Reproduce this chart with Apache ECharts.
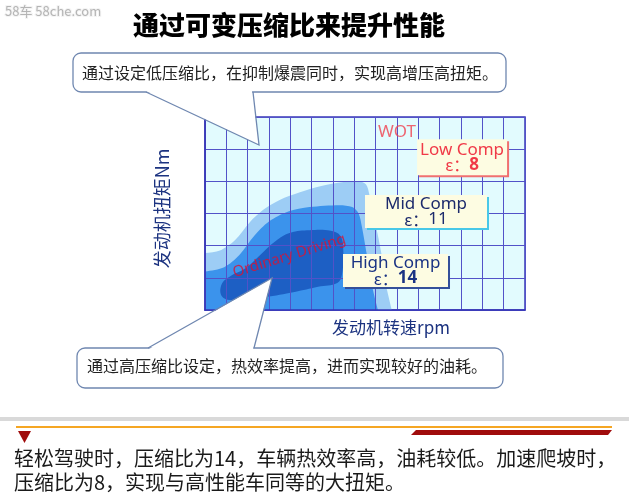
<!DOCTYPE html>
<html><head><meta charset="utf-8">
<script src="https://cdn.jsdelivr.net/npm/echarts@6/dist/echarts.min.js"></script>
<style>html,body{margin:0;padding:0;background:#fff}#c{width:629px;height:504px}</style>
</head><body><div id="c"></div>
<script>
// ---- data (axis units: rpm columns 0..15, torque rows 0..6) ----
const rpmRange = [0, 15];
const torqueRange = [0, 6];
// operating zones (outline points, [rpm, torque])
const lowCompZone = [[-1,1.77],[0,1.77],[0.7,1.85],[1.4,2.17],[2.1,2.73],[2.7,3.1],[3.5,3.42],[4.45,3.66],[5.4,3.85],[6.5,3.98],[7.2,4.0],[7.55,3.9],[7.7,3.6],[7.9,2.95],[8.2,2.0],[8.45,0.95],[8.62,-1],[-1,-1]];
const midCompZone = [[-1,1.2],[0,1.2],[0.9,1.33],[1.6,1.7],[2.3,2.3],[3.0,2.75],[3.9,3.06],[4.9,3.2],[6.3,3.26],[6.9,3.2],[7.2,3.0],[7.35,2.6],[7.55,1.85],[7.8,0.9],[8.0,-1],[-1,-1]];
const ordinaryZone = [[0.8,0.42],[0.78,0.8],[1.2,1.06],[1.9,1.3],[2.6,1.72],[3.3,2.14],[4.0,2.4],[4.9,2.48],[5.9,2.46],[6.35,2.3],[6.48,1.9],[6.42,1.1],[6.2,0.84],[5.3,0.72],[4.2,0.56],[2.8,0.4],[1.4,0.3]];
const modeNames = ['Low Comp', 'Mid Comp', 'High Comp'];
const modeRatios = ['8', '11', '14'];
const modeAt = [[12.05,4.75],[10.36,3.06],[8.93,1.23]];
const wotAt = [9.0, 5.53];
const ordinaryAt = [3.95, 1.68];

const chart = echarts.init(document.getElementById('c'));
const CJK = '"Noto Sans CJK SC","Noto Sans",sans-serif';
const LAT = '"Noto Sans","Noto Sans CJK SC",sans-serif';

function zone(name, pts, color, smooth, z) {
  return {
    type: 'custom', name, clip: true, z, silent: true, data: [0],
    renderItem: (p, api) => ({
      type: 'polygon',
      shape: { points: pts.map(q => api.coord(q)), smooth },
      style: { fill: color }
    })
  };
}

const boxStyles = [
  { col: '#f03a48', shadow: '#f07070', bold: true, w: 90, h: 36 },
  { col: '#1c2a6c', shadow: '#48c8e8', bold: false, w: 122, h: 33 },
  { col: '#1a3384', shadow: '#34509a', bold: true, w: 105, h: 33 }
];

const boxSeries = {
  type: 'custom', z: 10, silent: true,
  data: modeAt.map((p, i) => [p[0], p[1], i]),
  renderItem: (params, api) => {
    const i = api.value(2);
    const c = api.coord([api.value(0), api.value(1)]);
    const s = boxStyles[i];
    const x0 = c[0] - s.w / 2, y0 = c[1] - s.h / 2;
    return {
      type: 'group', children: [
        { type: 'rect', shape: { x: x0 + 2, y: y0 + 2, width: s.w, height: s.h }, style: { fill: s.shadow } },
        { type: 'rect', shape: { x: x0, y: y0, width: s.w, height: s.h }, style: { fill: '#fdfce2' } },
        { type: 'text', x: c[0], y: c[1] - 7.5, style: { text: modeNames[i], fill: s.col, font: '17px ' + LAT, align: 'center', verticalAlign: 'middle' } },
        { type: 'text', x: c[0], y: c[1] + 8, style: {
            text: '{b|ε：}{c|' + modeRatios[i] + '}', align: 'center', verticalAlign: 'middle',
            rich: {
              b: { fontFamily: CJK, fontSize: 16, fill: s.col, color: s.col },
              c: { fontFamily: LAT, fontSize: 17, fill: s.col, color: s.col, fontWeight: s.bold ? 'bold' : 'normal' }
            } } }
      ]
    };
  }
};

const textSeries = {
  type: 'scatter', z: 10, symbolSize: 0, silent: true,
  data: [
    { value: wotAt, label: { show: true, position: 'inside', formatter: 'WOT', color: '#f0404e', fontFamily: LAT, fontSize: 17 } },
    { value: ordinaryAt, label: { show: true, position: 'inside', formatter: 'Ordinary Driving', rotate: 17, color: '#e01030', fontFamily: LAT, fontSize: 15 } }
  ]
};

const WHITE = '#ffffff', EDGE = '#6f87b0';
const graphic = [
  { type: 'text', left: 4, top: 4, z: 100, style: { text: '58车 58che.com', fill: '#b4b4b4', stroke: '#f4f4f4', lineWidth: 2, font: '13px ' + CJK } },
  // top callout
  { type: 'rect', z: 100, shape: { x: 73, y: 53, width: 433, height: 39, r: 8 }, style: { fill: WHITE, stroke: EDGE, lineWidth: 1.3 } },
  { type: 'polygon', z: 101, shape: { points: [[146, 91], [252, 91], [259, 145]] }, style: { fill: WHITE } },
  { type: 'polyline', z: 102, shape: { points: [[146, 92], [259, 145], [253, 92]] }, style: { fill: null, stroke: EDGE, lineWidth: 1.3 } },
  { type: 'text', z: 103, x: 82, y: 72.5, style: { text: '通过设定低压缩比，在抑制爆震同时，实现高增压高扭矩。', fill: '#222', font: '16px ' + CJK, textVerticalAlign: 'middle' } },
  // bottom callout
  { type: 'rect', z: 100, shape: { x: 77, y: 348, width: 426, height: 40, r: 8 }, style: { fill: WHITE, stroke: EDGE, lineWidth: 1.3 } },
  { type: 'polygon', z: 101, shape: { points: [[149, 349], [253, 349], [272, 278]] }, style: { fill: WHITE } },
  { type: 'polyline', z: 102, shape: { points: [[148, 348], [272, 278], [254, 348]] }, style: { fill: null, stroke: EDGE, lineWidth: 1.3 } },
  { type: 'text', z: 103, x: 87, y: 366, style: { text: '通过高压缩比设定，热效率提高，进而实现较好的油耗。', fill: '#222', font: '16px ' + CJK, textVerticalAlign: 'middle' } },
  // bottom decoration
  { type: 'rect', z: 100, shape: { x: 0, y: 417, width: 629, height: 4 }, style: { fill: '#d9d9d9' } },
  { type: 'line', z: 100, shape: { x1: 16, y1: 427, x2: 612, y2: 427 }, style: { stroke: '#f5a623', lineWidth: 2 } },
  { type: 'polygon', z: 100, shape: { points: [[416, 430], [612, 430], [608, 435], [411, 435]] }, style: { fill: '#a00c0c' } },
  { type: 'polygon', z: 100, shape: { points: [[18, 431], [31, 431], [24.5, 443]] }, style: { fill: '#a00c0c' } },
  { type: 'text', z: 100, x: 14, y: 458, style: { text: '轻松驾驶时，压缩比为14，车辆热效率高，油耗较低。加速爬坡时，', fill: '#1a1a1a', font: '20px ' + CJK, textVerticalAlign: 'middle' } },
  { type: 'text', z: 100, x: 14, y: 482, style: { text: '压缩比为8，实现与高性能车同等的大扭矩。', fill: '#1a1a1a', font: '20px ' + CJK, textVerticalAlign: 'middle' } }
];

chart.setOption({
  animation: false,
  title: { text: '通过可变压缩比来提升性能', left: 128, top: 7, textStyle: { fontFamily: CJK, fontSize: 26, fontWeight: 900, color: '#000' } },
  grid: { left: 205, top: 117, width: 320, height: 193, show: true, backgroundColor: '#e2fbfe', borderColor: '#3838b8', borderWidth: 1.5 },
  xAxis: {
    type: 'value', min: rpmRange[0], max: rpmRange[1], interval: 1, z: 5,
    name: '发动机转速rpm', nameLocation: 'middle', nameGap: 9,
    nameTextStyle: { fontFamily: CJK, fontSize: 17, color: '#1c3380', padding: [0, 0, 0, 52], verticalAlign: 'top' },
    axisLabel: { show: false }, axisTick: { show: false },
    axisLine: { show: true, lineStyle: { color: '#3535b5', width: 1.5 } },
    splitLine: { show: true, lineStyle: { color: '#5252c8', width: 1 } }
  },
  yAxis: {
    type: 'value', min: torqueRange[0], max: torqueRange[1], interval: 1, z: 5,
    name: '发动机扭矩Nm', nameLocation: 'middle', nameGap: 34, nameRotate: 90,
    nameTextStyle: { fontFamily: CJK, fontSize: 18, color: '#1c3380', padding: [0, 0, 0, 10] },
    axisLabel: { show: false }, axisTick: { show: false },
    axisLine: { show: true, lineStyle: { color: '#3535b5', width: 1.5 } },
    splitLine: { show: true, lineStyle: { color: '#5252c8', width: 1 } }
  },
  graphic,
  series: [
    zone('低压缩比区', lowCompZone, '#9dcdf5', 0.3, 1),
    zone('中压缩比区', midCompZone, '#3b93ec', 0.3, 2),
    zone('普通驾驶区', ordinaryZone, '#1d5fc4', 0.4, 3),
    boxSeries,
    textSeries
  ]
});
</script></body></html>
